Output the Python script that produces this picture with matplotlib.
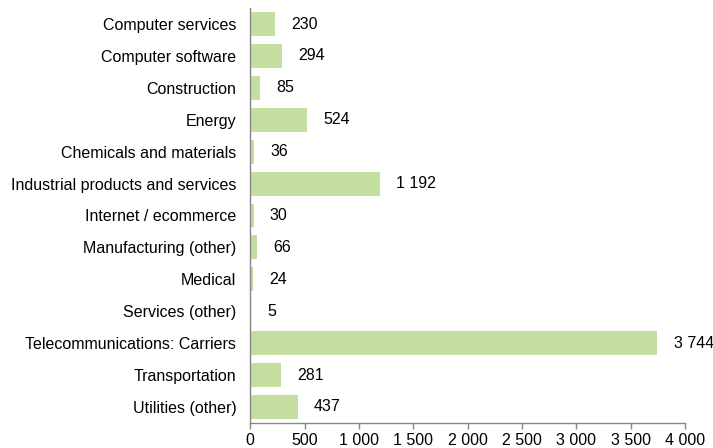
import matplotlib
matplotlib.use("Agg")
import matplotlib.pyplot as plt
from matplotlib.ticker import FuncFormatter

categories = ["Computer services", "Computer software", "Construction", "Energy",
              "Chemicals and materials", "Industrial products and services",
              "Internet / ecommerce", "Manufacturing (other)", "Medical",
              "Services (other)", "Telecommunications: Carriers", "Transportation",
              "Utilities (other)"]
values = [230, 294, 85, 524, 36, 1192, 30, 66, 24, 5, 3744, 281, 437]
xticks = [0, 500, 1000, 1500, 2000, 2500, 3000, 3500, 4000]

plt.rcParams['font.family'] = ['Liberation Sans', 'DejaVu Sans']
fig = plt.figure(figsize=(7.13, 4.48), dpi=100)
ax = fig.add_axes([0.351, 0.056, 0.61, 0.926])

def fmt(v):
    return f"{int(v):,}".replace(",", " ")

FS = 11.5
y = list(range(len(categories)))
ax.barh(y, values, height=0.75, color="#C3DE9F")
for yi, v in zip(y, values):
    ax.text(v + 150, yi, fmt(v), va="center", ha="left", fontsize=FS, color="black")

ax.set_yticks(y)
ax.set_yticklabels(categories, fontsize=FS)
ax.set_ylim(len(categories) - 0.5, -0.5)
ax.set_xlim(0, 4000)
ax.set_xticks(xticks)
ax.xaxis.set_major_formatter(FuncFormatter(lambda v, p: fmt(v)))
ax.tick_params(axis="x", labelsize=FS, direction="out", length=4, color="#888888", width=1, pad=3)
ax.tick_params(axis="y", length=0, pad=10)
for s in ["top", "right"]:
    ax.spines[s].set_visible(False)
for s in ["left", "bottom"]:
    ax.spines[s].set_color("#888888")
    ax.spines[s].set_linewidth(1)

fig.savefig("out.png", dpi=100)
